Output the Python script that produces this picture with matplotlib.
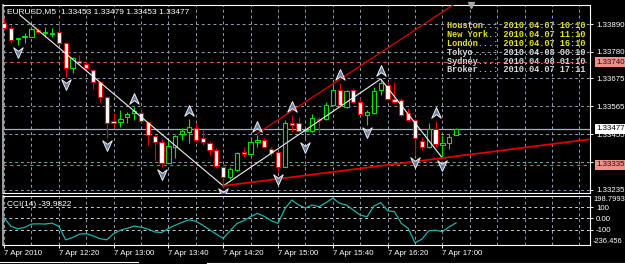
import numpy as np
import matplotlib.pyplot as plt
import matplotlib.transforms as mtransforms
from matplotlib.path import Path
from matplotlib.ticker import MultipleLocator

plt.rcParams['font.family'] = ['Liberation Sans', 'DejaVu Sans']

symbol = 'EURUSD,M5'

# 5-minute bars, 7 Apr 2010 11:40 .. 17:10
opens = [1.33892, 1.33874, 1.33832, 1.33837, 1.33839, 1.33866, 1.33854, 1.33852, 1.33858, 1.33815,
         1.33716, 1.33744, 1.33732, 1.33708, 1.33661, 1.33602, 1.33507, 1.33503, 1.33523, 1.33539,
         1.33539, 1.33503, 1.33448, 1.33424, 1.33341, 1.33405, 1.33456, 1.33464, 1.33480, 1.33440,
         1.33420, 1.33393, 1.33326, 1.33286, 1.33314, 1.33385, 1.33377, 1.33424, 1.33432, 1.33397,
         1.33385, 1.33326, 1.33499, 1.33499, 1.33468, 1.33468, 1.33515, 1.33515, 1.33570, 1.33630,
         1.33562, 1.33630, 1.33582, 1.33531, 1.33539, 1.33630, 1.33649, 1.33594, 1.33590, 1.33539,
         1.33511, 1.33428, 1.33405, 1.33476, 1.33413, 1.33420, 1.33453]
highs = [1.33914, 1.33886, 1.33836, 1.33854, 1.33878, 1.33874, 1.33878, 1.33874, 1.33898, 1.33819,
         1.33758, 1.33768, 1.33740, 1.33712, 1.33665, 1.33606, 1.33539, 1.33551, 1.33543, 1.33562,
         1.33559, 1.33507, 1.33452, 1.33436, 1.33432, 1.33452, 1.33480, 1.33515, 1.33499, 1.33472,
         1.33428, 1.33401, 1.33330, 1.33326, 1.33385, 1.33405, 1.33444, 1.33452, 1.33440, 1.33405,
         1.33389, 1.33511, 1.33531, 1.33523, 1.33476, 1.33535, 1.33523, 1.33582, 1.33653, 1.33657,
         1.33630, 1.33637, 1.33598, 1.33551, 1.33641, 1.33673, 1.33661, 1.33661, 1.33598, 1.33559,
         1.33515, 1.33444, 1.33499, 1.33507, 1.33452, 1.33456, 1.33479]
lows = [1.33872, 1.33815, 1.33807, 1.33815, 1.33837, 1.33856, 1.33839, 1.33839, 1.33811, 1.33681,
        1.33697, 1.33732, 1.33714, 1.33633, 1.33582, 1.33440, 1.33480, 1.33484, 1.33499, 1.33511,
        1.33503, 1.33413, 1.33353, 1.33326, 1.33341, 1.33361, 1.33432, 1.33420, 1.33424, 1.33413,
        1.33373, 1.33322, 1.33251, 1.33278, 1.33310, 1.33365, 1.33373, 1.33403, 1.33401, 1.33369,
        1.33306, 1.33326, 1.33464, 1.33464, 1.33432, 1.33464, 1.33460, 1.33511, 1.33566, 1.33562,
        1.33559, 1.33578, 1.33531, 1.33491, 1.33535, 1.33610, 1.33590, 1.33578, 1.33527, 1.33507,
        1.33373, 1.33393, 1.33401, 1.33405, 1.33361, 1.33397, 1.33453]
closes = [1.33874, 1.33827, 1.33835, 1.33841, 1.33870, 1.33858, 1.33858, 1.33856, 1.33815, 1.33716,
          1.33756, 1.33736, 1.33716, 1.33661, 1.33602, 1.33499, 1.33499, 1.33515, 1.33535, 1.33547,
          1.33507, 1.33452, 1.33424, 1.33341, 1.33409, 1.33448, 1.33468, 1.33484, 1.33432, 1.33424,
          1.33393, 1.33330, 1.33286, 1.33318, 1.33381, 1.33377, 1.33424, 1.33432, 1.33405, 1.33381,
          1.33326, 1.33499, 1.33491, 1.33468, 1.33472, 1.33519, 1.33511, 1.33570, 1.33630, 1.33570,
          1.33626, 1.33582, 1.33535, 1.33543, 1.33626, 1.33657, 1.33594, 1.33582, 1.33531, 1.33511,
          1.33440, 1.33405, 1.33476, 1.33417, 1.33420, 1.33444, 1.33477]

cci = [5, -70, -92, -80, -50, -48, -50, -42, -70, -190,
       -170, -140, -135, -155, -180, -190, -135, -105, -88, -68,
       -78, -95, -120, -125, -90, -60, -35, -12, -25, -60,
       -100, -140, -178, -110, -45, -20, 15, 45, 18, -20,
       -44, 85, 163, 120, 92, 119, 104, 140, 180, 134,
       119, 75, 30, 15, 110, 140, 68, 60, -44, -88,
       -216, -185, -110, -105, -118, -75, -39.9822]
cci_max, cci_min = 198.7993, -236.456
cci_levels = [100, 0, -100]
cci_level_labels = ['100', '0.00', '-100']

up_fractals = [19, 27, 37, 42, 49, 55, 63]
down_fractals = [2, 9, 15, 23, 32, 40, 44, 53, 60, 64]

zigzag_bars = [2.3, 32, 55, 64]
zigzag_prices = [1.33926, 1.33251, 1.33673, 1.33361]

upper_trend_bars = [37, 49]
upper_trend_prices = [1.33458, 1.33671]
lower_trend_bars = [32, 64]
lower_trend_prices = [1.33251, 1.33361]

red_levels = [1.33740, 1.33335]
price_ticks = [1.33890, 1.33780, 1.33675, 1.33565, 1.33455, 1.33345, 1.33235]

time_tick_bars = [0, 8, 16, 24, 32, 40, 48, 56, 64]
time_tick_labels = ['7 Apr 2010', '7 Apr 12:20', '7 Apr 13:00', '7 Apr 13:40', '7 Apr 14:20',
                    '7 Apr 15:00', '7 Apr 15:40', '7 Apr 16:20', '7 Apr 17:00']

session_names = ['Houston..', 'New York.', 'London...', 'Tokyo....', 'Sydney...', 'Broker...']
session_times = ['2010.04.07 10:10', '2010.04.07 11:10', '2010.04.07 16:10',
                 '2010.04.08 00:10', '2010.04.08 01:10', '2010.04.07 17:11']
session_colors = ['#e6e600', '#e6e600', '#e6e600', '#d8d8d8', '#d8d8d8', '#d8d8d8']

bull_col = '#00e600'
bear_col = '#f00000'
grid_col = '#8c9cb4'
dash = (0, (3, 3))
lab_fs = 5.7

fig = plt.figure(figsize=(6.25, 2.64), dpi=100, facecolor='black')
ax = fig.add_axes([3 / 625, 71 / 264, 587 / 625, 188 / 264], facecolor='black')
ax2 = fig.add_axes([3 / 625, 19 / 264, 587 / 625, 49 / 264], facecolor='black', sharex=ax)

ax.set_xlim(-0.15, 85.55)
ax.set_ylim(1.33223, 1.33965)
ax2.set_ylim(-236, 199)

for a in (ax, ax2):
    for side in ('top', 'right', 'bottom'):
        a.spines[side].set_color('white')
        a.spines[side].set_linewidth(0.8)
    a.spines['left'].set_color('#9a9a9a')
    a.spines['left'].set_linewidth(1.5)
    a.set_axisbelow(True)

# time axis
ax2.set_xticks(time_tick_bars)
ax2.set_xticklabels(time_tick_labels)
ax2.xaxis.set_minor_locator(MultipleLocator(4))
for lbl in ax2.get_xticklabels():
    lbl.set_horizontalalignment('left')
ax2.tick_params(axis='x', which='major', colors='white', labelsize=lab_fs, length=2, width=0.7, pad=1.5)
ax2.tick_params(axis='x', which='minor', bottom=False)
ax.tick_params(axis='x', which='both', bottom=False, labelbottom=False)

# price axis
ax.yaxis.tick_right()
ax.set_yticks(price_ticks)
ax.set_yticklabels([f'{p:.5f}' for p in price_ticks])
ax.tick_params(axis='y', colors='white', labelsize=lab_fs, length=2.5, width=0.7, pad=1.8)
ax.grid(True, which='both', axis='x', color=grid_col, ls=dash, lw=0.7)
ax.grid(True, axis='y', color=grid_col, ls=dash, lw=0.7)

ax2.yaxis.tick_right()
ax2.set_yticks(cci_levels)
ax2.set_yticklabels(cci_level_labels)
ax2.tick_params(axis='y', colors='white', labelsize=lab_fs, length=2.5, width=0.7, pad=1.8)
ax2.grid(True, which='both', axis='x', color=grid_col, ls=dash, lw=0.7)
ax2.grid(True, axis='y', color='#d0d0d0', ls=dash, lw=0.7)

# candles
x = np.arange(len(opens))
o = np.array(opens)
h = np.array(highs)
l = np.array(lows)
c = np.array(closes)
bull = c >= o
edge = np.where(bull, bull_col, bear_col)
fill = np.where(bull, 'black', 'white')
ax.vlines(x, l, h, colors=edge, lw=0.8, zorder=3)
ax.bar(x, np.abs(c - o), bottom=np.minimum(o, c), width=0.62, color=fill,
       edgecolor=edge, linewidth=0.8, zorder=4)

# horizontal lines
for p in red_levels:
    ax.axhline(p, color='#d86060', ls=dash, lw=0.8, zorder=2)
ax.axhline(closes[-1], color='#a4aebc', lw=0.9, zorder=2)

# zigzag and trend rays
ax.plot(zigzag_bars, zigzag_prices, color='#f2f2f2', lw=0.8, zorder=5)
x_end = ax.get_xlim()[1]
for bars, prices, lw in ((upper_trend_bars, upper_trend_prices, 0.9),
                         (lower_trend_bars, lower_trend_prices, 1.3)):
    slope = (prices[1] - prices[0]) / (bars[1] - bars[0])
    ax.plot([bars[0], x_end], [prices[0], prices[0] + slope * (x_end - bars[0])],
            color='#e00000', lw=lw, zorder=5)

# fractal arrows
up_path = Path([(0, 1), (0.8, -0.8), (0, -0.2), (-0.8, -0.8), (0, 1)],
               [Path.MOVETO, Path.LINETO, Path.LINETO, Path.LINETO, Path.CLOSEPOLY])
down_path = Path([(0, -1), (0.8, 0.8), (0, 0.2), (-0.8, 0.8), (0, -1)],
                 [Path.MOVETO, Path.LINETO, Path.LINETO, Path.LINETO, Path.CLOSEPOLY])
up_tr = mtransforms.offset_copy(ax.transData, fig=fig, x=0, y=8, units='dots')
dn_tr = mtransforms.offset_copy(ax.transData, fig=fig, x=0, y=-7, units='dots')
ax.plot(up_fractals, h[up_fractals], ls='none', marker=up_path, ms=8.5, mfc='#6d7ea0',
        mec='#f0f0f0', mew=0.7, transform=up_tr, zorder=6)
ax.plot(down_fractals, l[down_fractals], ls='none', marker=down_path, ms=8.5, mfc='#6d7ea0',
        mec='#f0f0f0', mew=0.7, transform=dn_tr, zorder=6)

# CCI
ax2.plot(x, cci, color='#20b2aa', lw=0.9, zorder=3)

# texts
ax.text(4 / 587, 1 - 7 / 188,
        f'{symbol}  {opens[-1]:.5f} {highs[-1]:.5f} {lows[-1]:.5f} {closes[-1]:.5f}',
        transform=ax.transAxes, color='white', fontsize=6, va='center', ha='left', zorder=7)
ax2.text(4 / 587, 1 - 8.5 / 49, f'CCI(14) {cci[-1]:.4f}', transform=ax2.transAxes,
         color='white', fontsize=6, va='center', ha='left', zorder=7)

for k, (name, t, col) in enumerate(zip(session_names, session_times, session_colors)):
    ax.text(444 / 587, 1 - (21 + 8.8 * k) / 188, f'{name}: {t}', transform=ax.transAxes,
            color=col, fontsize=6.2, family='Liberation Mono', weight='bold',
            va='center', ha='left', zorder=0.3)

lab_x = 1 + 6 / 587
btr = mtransforms.blended_transform_factory(ax.transAxes, ax.transData)
for p in red_levels:
    ax.text(lab_x, p, f'{p:.5f}', transform=btr, fontsize=lab_fs, color='#3a0000', va='center',
            ha='left', clip_on=False, zorder=10,
            bbox=dict(boxstyle='square,pad=0.18', fc='#f0908a', ec='none'))
ax.text(lab_x, closes[-1], f'{closes[-1]:.5f}', transform=btr, fontsize=lab_fs, color='black',
        va='center', ha='left', clip_on=False, zorder=10,
        bbox=dict(boxstyle='square,pad=0.18', fc='white', ec='none'))

btr2 = mtransforms.blended_transform_factory(ax2.transAxes, ax2.transData)
ax2.text(1 + 3 / 587, 199, f'{cci_max:.4f}', transform=btr2, fontsize=5.4, color='white',
         va='top', ha='left', clip_on=False)
ax2.text(1 + 3 / 587, -236, f'{cci_min:.3f}', transform=btr2, fontsize=5.4, color='white',
         va='bottom', ha='left', clip_on=False)

# chart shift marker
ax.plot([68.2], [1.0], marker='v', ms=4, color='#a8a8a8', clip_on=False, zorder=8,
        transform=mtransforms.blended_transform_factory(ax.transData, ax.transAxes))

# window tab lines at the bottom
fig.add_artist(plt.Line2D([0, 138 / 625], [2.5 / 264] * 2, color='white', lw=0.8))
fig.add_artist(plt.Line2D([207 / 625, 1], [1.5 / 264] * 2, color='white', lw=0.8))

fig.savefig('out.png', dpi=100, facecolor='black')
